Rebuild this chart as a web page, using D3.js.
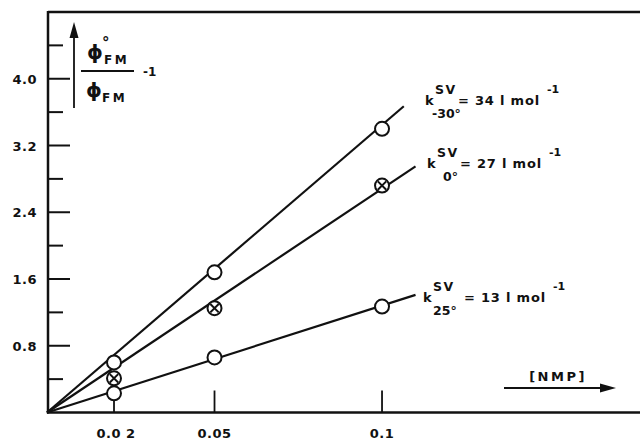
<!DOCTYPE html>
<html><head><meta charset="utf-8">
<script src="https://cdn.jsdelivr.net/npm/d3@7"></script>
<style>
html,body{margin:0;padding:0;background:#fff;}
svg text{font-family:"DejaVu Sans",sans-serif;font-weight:bold;fill:#111;}
</style></head>
<body>
<svg id="c" width="640" height="440"></svg>
<script>
// ---- data ----
const concentrations = [0.02, 0.05, 0.1];           // [NMP]
const valuesMinus30 = [0.60, 1.68, 3.40];           // -30 °C
const values0 = [0.41, 1.25, 2.72];                 // 0 °C
const values25 = [0.23, 0.66, 1.27];                // 25 °C
const lineEndX = [0.1065, 0.110, 0.110];            // fitted lines end
const lineEndY = [3.67, 2.95, 1.41];
const yMajorTicks = [0.8, 1.6, 2.4, 3.2, 4.0];
const yMinorTicks = [0.4, 1.2, 2.0, 2.8, 3.6, 4.4];
const xTicks = [0.02, 0.05, 0.1];
const xTickLabels = ["0.0 2", "0.05", "0.1"];
const slopes = ["34", "27", "13"];
const temps = ["-30°", "0°", "25°"];

const svg = d3.select("#c");
const x = d3.scaleLinear().domain([0, 0.177]).range([47, 640]);
const y = d3.scaleLinear().domain([0, 4.8]).range([412.5, 12]);
const ink = "#111";

// frame: top border, left axis, bottom axis
svg.append("line").attr("x1", 48).attr("x2", 640).attr("y1", y(4.8)).attr("y2", y(4.8))
  .attr("stroke", ink).attr("stroke-width", 2.5);
svg.append("line").attr("x1", 48).attr("x2", 48).attr("y1", y(4.8) - 1).attr("y2", y(0) + 1)
  .attr("stroke", ink).attr("stroke-width", 2.5);
svg.append("line").attr("x1", 47).attr("x2", 640).attr("y1", y(0)).attr("y2", y(0))
  .attr("stroke", ink).attr("stroke-width", 2.5);

// y ticks
svg.selectAll(".ymaj").data(yMajorTicks).enter().append("line")
  .attr("x1", 48).attr("x2", 70).attr("y1", d => y(d)).attr("y2", d => y(d))
  .attr("stroke", ink).attr("stroke-width", 2);
svg.selectAll(".ymin").data(yMinorTicks).enter().append("line")
  .attr("x1", 48).attr("x2", 63).attr("y1", d => y(d)).attr("y2", d => y(d))
  .attr("stroke", ink).attr("stroke-width", 2);
svg.selectAll(".ylab").data(yMajorTicks).enter().append("text")
  .attr("x", 37).attr("y", d => y(d) + 5).attr("text-anchor", "end")
  .attr("font-size", 13).attr("letter-spacing", 0.5).text(d => d.toFixed(1));

// x ticks
svg.selectAll(".xt").data(xTicks).enter().append("line")
  .attr("x1", d => x(d)).attr("x2", d => x(d)).attr("y1", y(0)).attr("y2", y(0) - 22)
  .attr("stroke", ink).attr("stroke-width", 1.8);
svg.selectAll(".xlab").data(xTicks).enter().append("text")
  .attr("x", (d, i) => x(d) + (i === 0 ? 2 : 0)).attr("y", 438).attr("text-anchor", "middle")
  .attr("font-size", 13).attr("letter-spacing", 0.5).text((d, i) => xTickLabels[i]);

// fitted lines
const series = [valuesMinus30, values0, values25];
series.forEach((s, i) => {
  svg.append("line")
    .attr("x1", x(0)).attr("y1", y(0))
    .attr("x2", x(lineEndX[i])).attr("y2", y(lineEndY[i]))
    .attr("stroke", ink).attr("stroke-width", 2.2);
});

// points
series.forEach((s, i) => {
  const g = svg.append("g");
  s.forEach((v, j) => {
    const cx = x(concentrations[j]), cy = y(v);
    g.append("circle").attr("cx", cx).attr("cy", cy).attr("r", 7)
      .attr("fill", "#fff").attr("stroke", ink).attr("stroke-width", 2);
    if (i === 1) {
      const k = 4.2;
      g.append("path").attr("d", `M${cx-k},${cy-k}L${cx+k},${cy+k}M${cx+k},${cy-k}L${cx-k},${cy+k}`)
        .attr("stroke", ink).attr("stroke-width", 2);
    }
  });
});

// line labels
const labelPos = [[425, 105], [427, 168], [423, 302]];
const subDx = [7, 16, 10];
labelPos.forEach((p, i) => {
  const [lx, ly] = p;
  svg.append("text").attr("x", lx).attr("y", ly).attr("font-size", 13).text("k");
  svg.append("text").attr("x", lx + 10).attr("y", ly - 11).attr("font-size", 12.5).attr("letter-spacing", 1.5).text("SV");
  svg.append("text").attr("x", lx + subDx[i]).attr("y", ly + 13).attr("font-size", 12.5).text(temps[i]);
  svg.append("text").attr("x", lx + 33 + (i === 2 ? 8 : 0)).attr("y", ly).attr("font-size", 13)
    .attr("letter-spacing", 0.8).text("= " + slopes[i] + " l mol");
  svg.append("text").attr("x", lx + 122 + (i === 2 ? 8 : 0)).attr("y", ly - 12).attr("font-size", 11).text("-1");
});

// y axis label with arrow
svg.append("line").attr("x1", 74).attr("x2", 74).attr("y1", 108).attr("y2", 34)
  .attr("stroke", ink).attr("stroke-width", 1.8);
svg.append("path").attr("d", "M74,22L69.5,38L78.5,38Z").attr("fill", ink);
svg.append("text").attr("x", 87).attr("y", 59).attr("font-size", 20).text("ϕ");
svg.append("text").attr("x", 102).attr("y", 48).attr("font-size", 15).attr("font-weight", "normal").text("°");
svg.append("text").attr("x", 104).attr("y", 64).attr("font-size", 12).attr("letter-spacing", 2.5).text("FM");
svg.append("line").attr("x1", 81).attr("x2", 134).attr("y1", 71).attr("y2", 71)
  .attr("stroke", ink).attr("stroke-width", 1.8);
svg.append("text").attr("x", 86).attr("y", 97).attr("font-size", 20).text("ϕ");
svg.append("text").attr("x", 102).attr("y", 102).attr("font-size", 12).attr("letter-spacing", 2.5).text("FM");
svg.append("text").attr("x", 143).attr("y", 76).attr("font-size", 12).text("-1");

// x axis label with arrow
svg.append("text").attr("x", 558).attr("y", 381).attr("text-anchor", "middle")
  .attr("font-size", 13).attr("letter-spacing", 2.5).text("[NMP]");
svg.append("line").attr("x1", 504).attr("x2", 604).attr("y1", 388).attr("y2", 388)
  .attr("stroke", ink).attr("stroke-width", 1.8);
svg.append("path").attr("d", "M616,388L600,383.5L600,392.5Z").attr("fill", ink);
</script>
</body></html>
